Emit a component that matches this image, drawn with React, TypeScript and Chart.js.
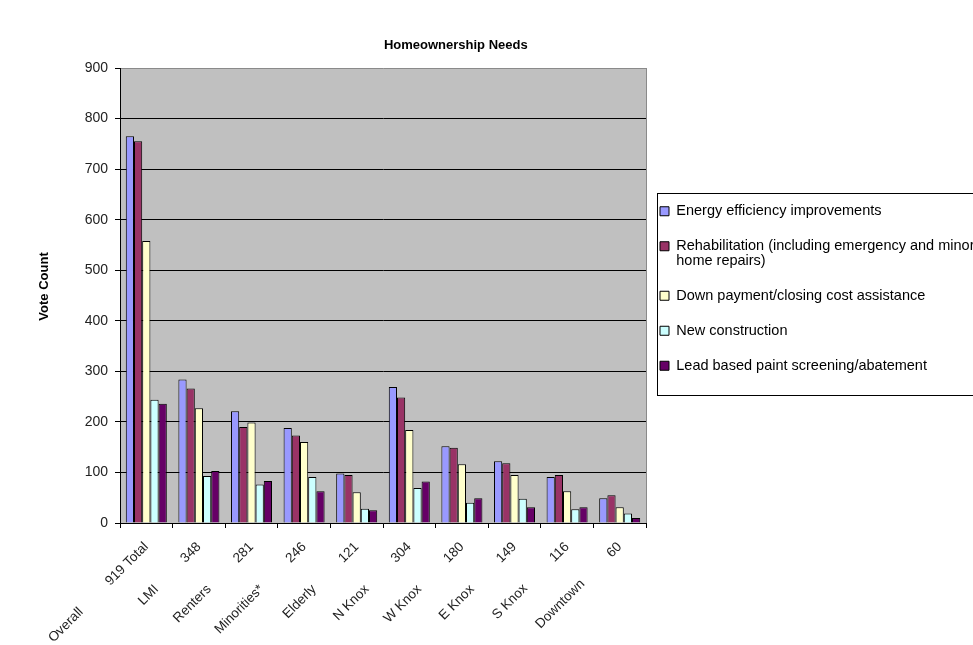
import React, { useEffect, useRef } from 'react';
import { Chart, registerables } from 'chart.js';

Chart.register(...registerables);

const groupNames = ['Overall', 'LMI', 'Renters', 'Minorities*', 'Elderly', 'N Knox', 'W Knox', 'E Knox', 'S Knox', 'Downtown'];
const groupTotals = ['919 Total', '348', '281', '246', '121', '304', '180', '149', '116', '60'];

const energy = [765, 284, 221, 188, 98, 269, 152, 122, 91, 49];
const rehab = [755, 266, 190, 173, 95, 248, 149, 118, 95, 55];
const downPayment = [558, 227, 199, 160, 61, 184, 116, 95, 63, 31];
const newConstruction = [244, 93, 76, 91, 28, 69, 40, 48, 27, 19];
const leadPaint = [236, 103, 83, 63, 25, 82, 49, 31, 31, 10];

const seriesNames = [
  'Energy efficiency improvements',
  'Rehabilitation (including emergency and minor\nhome repairs)',
  'Down payment/closing cost assistance',
  'New construction',
  'Lead based paint screening/abatement',
];
const seriesColors = ['#9999FF', '#993366', '#FFFFCC', '#CCFFFF', '#660066'];
const seriesValues = [energy, rehab, downPayment, newConstruction, leadPaint];

const yMin = 0;
const yMax = 900;
const yStep = 100;

const FONT = "'Liberation Sans', Arial, Helvetica, sans-serif";
const CANVAS_W = 991;
const CANVAS_H = 645;
const LEGEND_W = 345;

const plotDecor = {
  id: 'plotDecor',
  beforeLayout(chart: any) {
    const lg = chart.legend;
    if (lg && !lg.__fixedW) {
      const origFit = lg.fit;
      lg.fit = function () {
        origFit.call(this);
        this.width = LEGEND_W;
      };
      lg.__fixedW = true;
    }
  },
  afterLayout(chart: any) {
    const lg = chart.legend;
    if (lg) {
      lg.left -= 6.5;
      lg.right -= 6.5;
      lg.top -= 7;
      lg.bottom -= 7;
    }
  },
  beforeDraw(chart: any) {
    const { ctx, chartArea: a } = chart;
    ctx.save();
    ctx.fillStyle = '#C0C0C0';
    ctx.fillRect(a.left, a.top, a.right - a.left, a.bottom - a.top);
    ctx.strokeStyle = '#8a8a8a';
    ctx.lineWidth = 1;
    ctx.beginPath();
    ctx.moveTo(Math.round(a.right) + 0.5, a.top);
    ctx.lineTo(Math.round(a.right) + 0.5, a.bottom);
    ctx.stroke();
    ctx.restore();
  },
  afterDraw(chart: any) {
    const lg = chart.legend;
    if (!lg || !lg.legendHitBoxes || !lg.legendHitBoxes.length) return;
    const hb = lg.legendHitBoxes;
    const first = hb[0];
    const last = hb[hb.length - 1];
    const { ctx } = chart;
    const left = Math.round(first.left - 3) + 0.5;
    const top = Math.round(first.top - 11) + 0.5;
    const bottom = Math.round(last.top + 36) + 0.5;
    ctx.save();
    ctx.strokeStyle = '#000';
    ctx.lineWidth = 1;
    ctx.strokeRect(left, top, chart.width + 20 - left, bottom - top);
    ctx.restore();
  },
};

export default function App() {
  const ref = useRef<HTMLCanvasElement | null>(null);

  useEffect(() => {
    if (!ref.current) return;
    const labels = groupNames.map((n, i) => n + ' '.repeat(10) + groupTotals[i]);
    const chart = new Chart(ref.current, {
      type: 'bar',
      data: {
        labels,
        datasets: seriesNames.map((name, i) => ({
          label: name,
          data: seriesValues[i],
          backgroundColor: seriesColors[i],
          borderColor: '#000',
          borderWidth: 1,
          categoryPercentage: 0.78,
          barPercentage: 1,
        })),
      },
      options: {
        responsive: false,
        animation: false,
        layout: { padding: 0 },
        plugins: {
          title: {
            display: true,
            text: 'Homeownership Needs' + ' '.repeat(22),
            color: '#000',
            font: { family: FONT, size: 13, weight: 'bold' },
            padding: { top: 38, bottom: 14.4 },
          },
          legend: {
            position: 'right',
            align: 'center',
            fullSize: false,
            labels: {
              color: '#000',
              font: { family: FONT, size: 14.5, lineHeight: 1 },
              boxWidth: 9,
              boxHeight: 9,
              padding: 20.5,
              generateLabels: (chart: any) => {
                const items = Chart.defaults.plugins.legend.labels.generateLabels(chart);
                return items.map((it: any) => ({
                  ...it,
                  text: typeof it.text === 'string' && it.text.includes('\n') ? it.text.split('\n') : it.text,
                }));
              },
            },
          },
          tooltip: { enabled: false },
        },
        scales: {
          x: {
            grid: { offset: true, drawOnChartArea: false, color: '#000', tickColor: '#000', tickLength: 5 },
            border: { color: '#000', width: 1 },
            ticks: {
              autoSkip: false,
              minRotation: 45,
              maxRotation: 45,
              padding: 11,
              color: '#222',
              font: { family: FONT, size: 13.5 },
            },
            afterFit: (s: any) => {
              s.height = 122;
            },
          },
          y: {
            min: yMin,
            max: yMax,
            ticks: {
              stepSize: yStep,
              padding: 7,
              color: '#222',
              font: { family: FONT, size: 14 },
            },
            grid: {
              color: (c: any) => (c.tick && c.tick.value === yMax ? '#8a8a8a' : '#000'),
              tickColor: '#000',
              tickLength: 5,
            },
            border: { color: '#000', width: 1 },
            title: {
              display: true,
              text: ' '.repeat(5) + 'Vote Count',
              color: '#000',
              font: { family: FONT, size: 13, weight: 'bold' },
              padding: { top: 37, bottom: 0 },
            },
            afterFit: (s: any) => {
              s.width = 120;
            },
          },
        },
      },
      plugins: [plotDecor],
    } as any);
    return () => chart.destroy();
  }, []);

  return (
    <div style={{ position: 'fixed', left: 0, top: 0, width: 973, height: 645, overflow: 'hidden', background: '#fff' }}>
      <canvas ref={ref} width={CANVAS_W} height={CANVAS_H} style={{ display: 'block' }} />
    </div>
  );
}
